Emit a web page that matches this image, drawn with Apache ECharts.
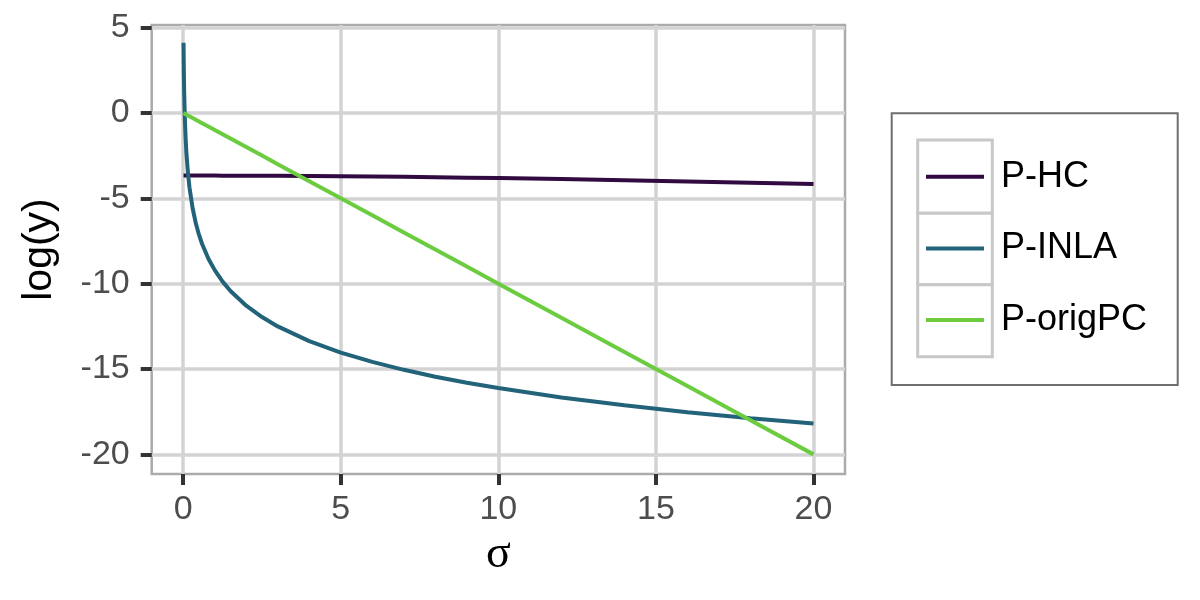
<!DOCTYPE html>
<html>
<head>
<meta charset="utf-8">
<script src="https://cdn.jsdelivr.net/npm/echarts@6/dist/echarts.min.js"></script>
<style>
html,body{margin:0;padding:0;background:#fff;}
#main{width:1200px;height:600px;}
</style>
</head>
<body>
<div id="main"></div>
<script>
var seriesNames = ['P-HC', 'P-INLA', 'P-origPC'];
var sigma = [0.01,0.02,0.03,0.05,0.075,0.1,0.15,0.2,0.3,0.4,0.5,0.6,0.8,1,1.25,1.5,2,2.5,3,4,5,6,7,8,9,10,12,14,16,18,20];
var logHC = [-3.671,-3.671,-3.671,-3.671,-3.671,-3.671,-3.671,-3.671,-3.671,-3.671,-3.671,-3.671,-3.671,-3.672,-3.673,-3.674,-3.677,-3.680,-3.685,-3.696,-3.710,-3.727,-3.746,-3.768,-3.793,-3.819,-3.877,-3.942,-4.013,-4.089,-4.165];
var logINLA = [4.105,2.401,1.254,-0.243,-1.448,-2.308,-3.521,-4.383,-5.599,-6.461,-7.131,-7.678,-8.541,-9.210,-9.880,-10.427,-11.290,-11.959,-12.506,-13.369,-14.039,-14.585,-15.048,-15.449,-15.802,-16.118,-16.665,-17.127,-17.528,-17.881,-18.197];
var logOrigPC = [-0.01,-0.02,-0.03,-0.05,-0.075,-0.1,-0.15,-0.2,-0.3,-0.4,-0.5,-0.6,-0.8,-1,-1.25,-1.5,-2,-2.5,-3,-4,-5,-6,-7,-8,-9,-10,-12,-14,-16,-18,-20];
var xTicks = [0, 5, 10, 15, 20];
var yTicks = [-20, -15, -10, -5, 0, 5];
var colors = ['#300A40', '#22637A', '#6BCC40'];

function pairs(xs, ys) { return xs.map(function (x, i) { return [x, ys[i]]; }); }
var allValues = [logHC, logINLA, logOrigPC];

var chart = echarts.init(document.getElementById('main'), null, {renderer: 'canvas'});
var option = {
  animation: false,
  backgroundColor: '#ffffff',
  textStyle: {fontFamily: 'Liberation Sans, Arial, sans-serif'},
  grid: {
    left: 151.7, right: 355, top: 25, bottom: 126,
    show: true, borderColor: '#ABABAB', borderWidth: 2.5, backgroundColor: 'transparent'
  },
  xAxis: {
    type: 'value', min: -1, max: 21,
    name: 'σ', nameLocation: 'middle', nameGap: 50,
    nameTextStyle: {fontFamily: 'Liberation Serif, DejaVu Serif, serif', fontSize: 46, color: '#000', lineHeight: 46},
    axisLine: {show: false, onZero: false},
    axisTick: {show: true, customValues: xTicks, length: 11, lineStyle: {color: '#333333', width: 4}},
    axisLabel: {customValues: xTicks, fontSize: 34, lineHeight: 34, color: '#4D4D4D', margin: 19},
    splitLine: {show: true, lineStyle: {color: '#D3D3D3', width: 3.5}}
  },
  yAxis: {
    type: 'value', min: -21.15, max: 5.15,
    name: 'log(y)', nameLocation: 'middle', nameGap: 92, nameRotate: 90,
    nameTextStyle: {fontSize: 41, color: '#000', lineHeight: 41},
    axisLine: {show: false, onZero: false},
    axisTick: {show: true, customValues: yTicks, length: 11, lineStyle: {color: '#333333', width: 4}},
    axisLabel: {customValues: yTicks, fontSize: 34, color: '#4D4D4D', margin: 22},
    splitLine: {show: true, lineStyle: {color: '#D3D3D3', width: 3.5}}
  },
  legend: {
    orient: 'vertical', left: 926, top: 156.7, padding: 0,
    itemWidth: 58, itemHeight: 4, itemGap: 31.7, icon: 'rect',
    z: 10,
    textStyle: {fontSize: 36, lineHeight: 40, color: '#000', padding: [0, 0, 0, 12]},
    data: seriesNames
  },
  graphic: [
    {type: 'rect', z: 1, shape: {x: 891.7, y: 113.3, width: 286, height: 271.7}, style: {fill: '#fff', stroke: '#6E6E6E', lineWidth: 2}},
    {type: 'rect', z: 2, shape: {x: 917.7, y: 140, width: 74.6, height: 73.3}, style: {fill: '#fff', stroke: '#C8C8C8', lineWidth: 3}},
    {type: 'rect', z: 2, shape: {x: 917.7, y: 213.3, width: 74.6, height: 71.5}, style: {fill: '#fff', stroke: '#C8C8C8', lineWidth: 3}},
    {type: 'rect', z: 2, shape: {x: 917.7, y: 284.8, width: 74.6, height: 71.9}, style: {fill: '#fff', stroke: '#C8C8C8', lineWidth: 3}}
  ],
  series: seriesNames.map(function (name, i) {
    return {
      name: name, type: 'line', data: pairs(sigma, allValues[i]),
      showSymbol: false, symbol: 'none', smooth: false,
      lineStyle: {color: colors[i], width: 4}, itemStyle: {color: colors[i]},
      z: 3
    };
  })
};
chart.setOption(option);
</script>
</body>
</html>
